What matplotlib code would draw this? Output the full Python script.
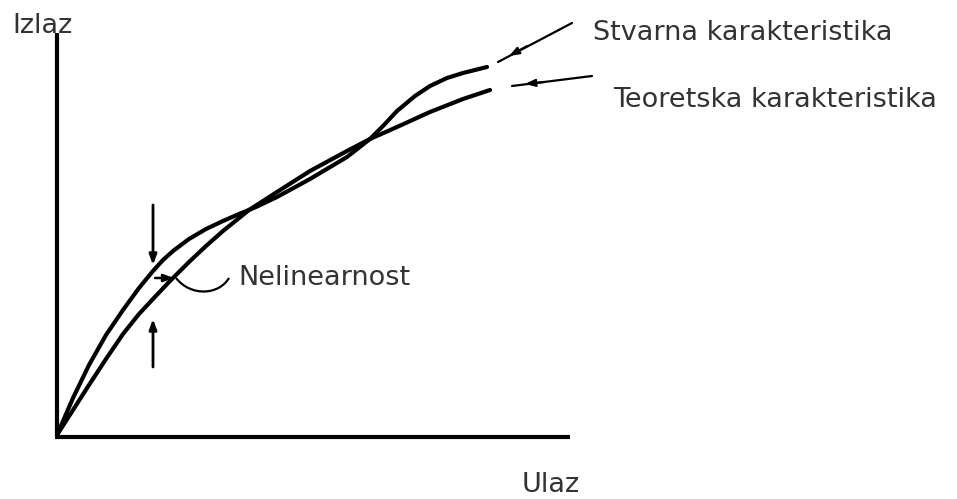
import numpy as np
import matplotlib
matplotlib.use('Agg')
import matplotlib.pyplot as plt
from matplotlib.path import Path
from matplotlib.patches import PathPatch

# curves (ulaz -> izlaz, arbitrary units, origin at axis corner)
stvarna_x = [0, 16, 32, 49, 66, 82, 96, 106, 116, 132, 149, 166, 182, 199, 220, 253, 290, 313, 326, 340, 358, 373, 390, 406, 430]
stvarna_y = [0, 37, 70, 100, 125, 147, 164, 175, 184, 196, 206, 214, 221, 228, 238, 256, 278, 296, 309, 324, 339, 349, 357, 362, 368]

teoretska_x = [0, 16, 32, 49, 66, 82, 96, 112, 132, 149, 166, 192, 220, 253, 290, 313, 340, 373, 406, 433]
teoretska_y = [0, 25, 50, 76, 101, 121, 136, 153, 173, 189, 204, 225, 243, 264, 284, 296, 308, 323, 336, 345]

x_axis_len = 513
y_axis_len = 402
nelin_x = 96  # where the nonlinearity is marked

label_izlaz = 'Izlaz'
label_ulaz = 'Ulaz'
label_stvarna = 'Stvarna karakteristika'
label_teoretska = 'Teoretska karakteristika'
label_nelin = 'Nelinearnost'

text_color = '#333333'
fs = 19.5

fig = plt.figure(figsize=(9.57, 4.99), dpi=100)
ax = fig.add_axes([0, 0, 1, 1])
ax.set_xlim(-57, 900)
ax.set_ylim(-64, 435)
ax.axis('off')

# axes
ax.plot([0, 0], [-2, y_axis_len], color='black', lw=3, solid_capstyle='butt')
ax.plot([-2, x_axis_len], [-2, -2], color='black', lw=3, solid_capstyle='butt')

# curves
ax.plot(stvarna_x, stvarna_y, color='black', lw=3, solid_capstyle='round', solid_joinstyle='round')
ax.plot(teoretska_x, teoretska_y, color='black', lw=3, solid_capstyle='round', solid_joinstyle='round')

arrow_kw = dict(arrowstyle='-|>,head_length=0.6,head_width=0.22', color='black', lw=1.5,
                shrinkA=0, shrinkB=0)

# pointer to Stvarna
ax.plot([441, 515], [373, 412], color='black', lw=1.6, solid_capstyle='round')
ax.annotate('', xy=(452, 379), xytext=(470, 389), arrowprops=arrow_kw)

# pointer to Teoretska
ax.plot([455, 535], [349, 359], color='black', lw=1.6, solid_capstyle='round')
ax.annotate('', xy=(468, 351), xytext=(488, 353), arrowprops=arrow_kw)

# nonlinearity marker
y_top = np.interp(nelin_x, stvarna_x, stvarna_y)
y_bot = np.interp(nelin_x, teoretska_x, teoretska_y)
ax.annotate('', xy=(nelin_x, y_top + 6), xytext=(nelin_x, y_top + 66),
            arrowprops=dict(arrow_kw, lw=2))
ax.annotate('', xy=(nelin_x, y_bot - 20), xytext=(nelin_x, y_bot - 68),
            arrowprops=dict(arrow_kw, lw=2))
ax.annotate('', xy=(117, 157), xytext=(98, 157), arrowprops=dict(arrow_kw, lw=1.8))

verts = [(119, 157), (134, 138), (162, 140), (172, 157)]
codes = [Path.MOVETO, Path.CURVE4, Path.CURVE4, Path.CURVE4]
ax.add_patch(PathPatch(Path(verts, codes), facecolor='none', edgecolor='black', lw=1.6))

# labels
ax.text(-45, 402, label_izlaz, fontsize=fs, color=text_color, va='baseline', ha='left')
ax.text(465, -57, label_ulaz, fontsize=fs, color=text_color, va='baseline', ha='left')
ax.text(536, 395, label_stvarna, fontsize=fs, color=text_color, va='baseline', ha='left')
ax.text(556, 328, label_teoretska, fontsize=fs, color=text_color, va='baseline', ha='left')
ax.text(181, 150, label_nelin, fontsize=fs, color=text_color, va='baseline', ha='left')

fig.savefig('out.png', dpi=100, facecolor='white')
